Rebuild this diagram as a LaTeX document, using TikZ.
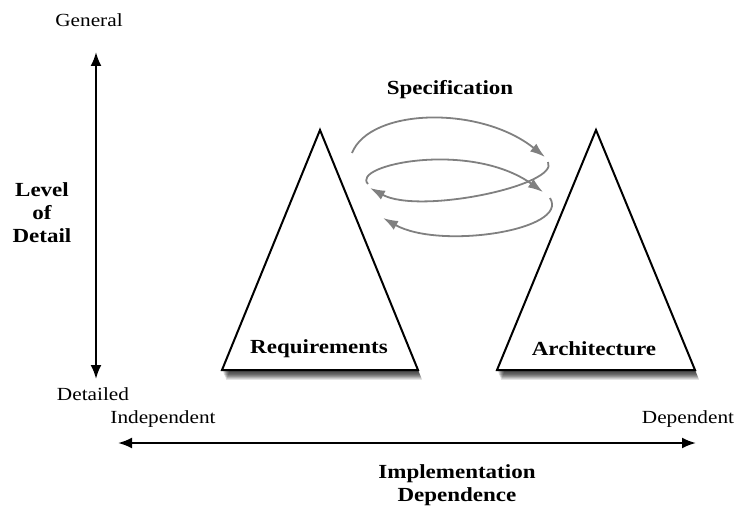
\documentclass[tikz,border=0pt]{standalone}
\usepackage{fontspec}
\setmainfont[FakeStretch=1.15]{Liberation Serif}
\usetikzlibrary{arrows.meta}
\begin{document}
\begin{tikzpicture}[x=1pt,y=-1pt,
    axis/.style={line width=2.2pt,{Latex[length=14pt,width=11pt]}-{Latex[length=14pt,width=11pt]}},
    swirl/.style={draw=black!50,line width=1.8pt,-{Latex[length=15pt,width=10pt]}},
    cone/.style={draw,line width=2pt,fill=white},
    haze/.style={fill=black,opacity=.16},
    title/.style={font=\bfseries\fontsize{20}{23}\selectfont,align=center},
    tag/.style={font=\fontsize{18.5}{20}\selectfont}]
    \useasboundingbox (0,0) rectangle (736,508);

    % level of detail
    \coordinate (top) at (96,52);
    \coordinate (bottom) at (96,379);
    \draw[axis] (top) -- (bottom);
    \node[tag] (general) at (89,20) {General};
    \node[tag] (detailed) at (93,394) {Detailed};
    \node[title] (level) at (42,213) {Level\\of\\Detail};

    % the two cones, with a soft shadow
    \foreach \d in {1,...,8} {
      \fill[haze,shift={(0.5*\d,1.2*\d)}] (320,130) -- (418,370) -- (222,370) -- cycle;
      \fill[haze,shift={(0.5*\d,1.2*\d)}] (596,130) -- (695,370) -- (497,370) -- cycle;
    }
    \draw[cone] (320,130) -- (418,370) -- (222,370) -- cycle;
    \node[title] (req) at (319,349) {Requirements};
    \draw[cone] (596,130) -- (695,370) -- (497,370) -- cycle;
    \node[title] (arch) at (594,349) {Architecture};

    % specification loops
    \node[title] (spec) at (450,90) {Specification};
    \draw[swirl] (352,153) .. controls (370,108) and (480,105) .. (545,157);
    \draw[swirl] (548,162) .. controls (560,185) and (420,215) .. (370,188);
    \draw[swirl] (368,184) .. controls (350,165) and (470,140) .. (543,192);
    \draw[swirl] (550,198) .. controls (570,230) and (440,250) .. (383,218);

    % implementation dependence
    \coordinate (left) at (118,443);
    \coordinate (right) at (696,443);
    \draw[axis] (left) -- (right);
    \node[tag] (indep) at (163,419) {Independent};
    \node[tag] (dep) at (688,419) {Dependent};
    \node[title] (impl) at (457,485) {Implementation\\Dependence};
\end{tikzpicture}
\end{document}
